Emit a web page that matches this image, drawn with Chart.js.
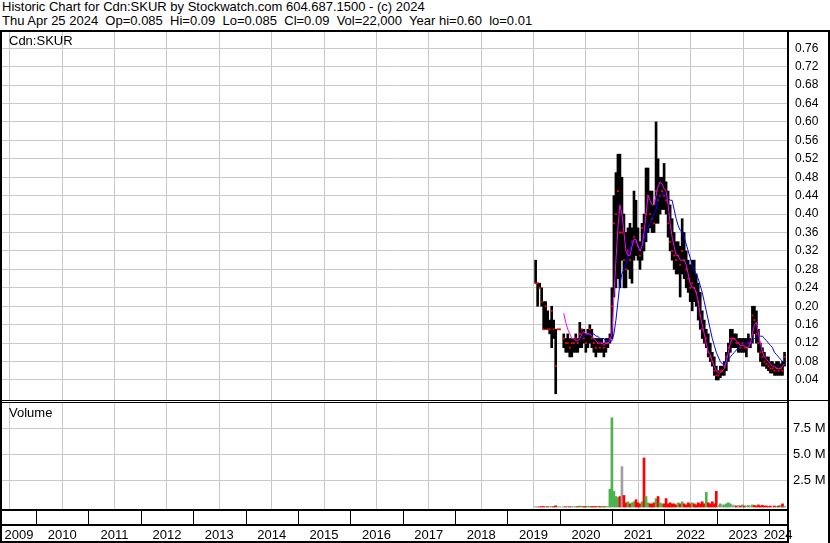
<!DOCTYPE html>
<html>
<head>
<meta charset="utf-8">
<title>Historic Chart for Cdn:SKUR</title>
<script src="https://cdn.jsdelivr.net/npm/chart.js"></script>
<style>
  body { margin: 0; background: #fff; }
  #wrap { position: relative; width: 830px; height: 543px; overflow: hidden; font-family: Arial, "Liberation Sans", sans-serif; }
  .txt { position: absolute; font-size: 13px; line-height: 13px; white-space: pre; color: #000; }
  .ln { position: absolute; background: #000; }
  canvas { position: absolute; left: 0; }
</style>
</head>
<body>
<div id="wrap">
  <div class="txt" style="left:2px;top:0px">Historic Chart for Cdn:SKUR by Stockwatch.com 604.687.1500 - (c) 2024</div>
  <div class="txt" style="left:2px;top:14px">Thu Apr 25 2024  Op=0.085  Hi=0.09  Lo=0.085  Cl=0.09  Vol=22,000  Year hi=0.60  lo=0.01</div>

  <canvas id="priceChart" width="830" height="369" style="top:31px"></canvas>
  <canvas id="volumeChart" width="830" height="140" style="top:403px"></canvas>

  <div class="txt" style="left:9px;top:34px">Cdn:SKUR</div>
  <div class="txt" style="left:9px;top:406px">Volume</div>

  <!-- frame -->
  <div class="ln" style="left:0;top:30px;width:830px;height:2px"></div>
  <div class="ln" style="left:0;top:30px;width:2px;height:513px"></div>
  <div class="ln" style="left:787px;top:30px;width:2px;height:513px"></div>
  <div class="ln" style="left:828px;top:30px;width:2px;height:513px"></div>
  <div class="ln" style="left:0;top:400px;width:830px;height:1px"></div>
  <div class="ln" style="left:0;top:402px;width:789px;height:1px"></div>
  <div class="ln" style="left:0;top:509px;width:789px;height:2px"></div>
  <div class="ln" style="left:0;top:524px;width:789px;height:2px"></div>
  <div class="ln" style="left:0;top:541px;width:789px;height:2px"></div>
</div>

<script>
// two-week bars, mid Jul 2019 -> Apr 2024
const firstDate = 2019.54;
const stepYears = 14 / 365.25;

const highs = [
  .30, .25, .25, .24, .21, .21, .19, .17, .20, .17, .15, .15, .15, null,
  .14, .13, .14, .13, .13, .13, .14, .13, .165, .15, .15, .14, .15, .16, .15, .13,
  .13, .13, .13, .13, .12, .13, .13, .14, .24, .44, .49, .53, .53, .48, .40, .36,
  .37, .38, .37, .45, .43, .37, .34, .38, .40, .50, .50, .45, .45, .42, .60, .52,
  .48, .48, .51, .47, .45, .42, .39, .36, .34, .34, .33, .39, .36, .32, .30, .29,
  .30, .30, .27, .25, .23, .19, .17, .15, .14, .12, .10, .09, .07, .06, .07, .07,
  .08, .10, .12, .15, .15, .14, .14, .13, .13, .13, .13, .13, .14, .13, .20, .20,
  .19, .15, .12, .11, .10, .09, .09, .08, .08, .075, .08, .08, .075, .08, .10
];
const lows = [
  .25, .20, .24, .20, .15, .15, .15, .14, .11, .13, .01, .15, .15, null,
  .11, .10, .10, .09, .09, .10, .10, .10, .11, .11, .12, .10, .11, .12, .11, .10,
  .09, .10, .10, .10, .09, .10, .11, .12, .13, .22, .24, .26, .24, .30, .24, .24,
  .28, .26, .25, .30, .31, .30, .28, .30, .32, .34, .36, .37, .36, .36, .38, .38,
  .40, .41, .41, .40, .35, .32, .30, .28, .27, .27, .22, .27, .26, .24, .23, .21,
  .19, .21, .20, .17, .15, .13, .12, .11, .09, .08, .07, .05, .04, .04, .045, .05,
  .05, .06, .08, .10, .11, .11, .11, .10, .10, .10, .10, .09, .11, .11, .12, .14,
  .12, .10, .08, .07, .07, .065, .06, .055, .055, .05, .05, .05, .05, .05, .07
];
const closes = [
  .25, .25, .24, .21, .15, .20, .15, .15, .19, .15, .07, .15, .15, null,
  .13, .12, .12, .11, .12, .12, .13, .12, .14, .15, .13, .12, .14, .15, .13, .12,
  .11, .12, .11, .12, .11, .12, .12, .13, .20, .38, .40, .45, .36, .36, .30, .28,
  .32, .30, .34, .35, .34, .33, .31, .37, .35, .40, .44, .40, .39, .38, .45, .43,
  .44, .45, .44, .43, .38, .34, .32, .31, .30, .31, .29, .32, .30, .28, .26, .24,
  .25, .24, .23, .21, .18, .15, .12, .13, .10, .09, .08, .06, .05, .05, .06, .06,
  .07, .09, .11, .13, .13, .13, .12, .12, .11, .12, .11, .11, .12, .12, .18, .17,
  .14, .12, .10, .09, .08, .075, .07, .065, .065, .06, .065, .06, .065, .06, .09
];
// millions of shares
const volumes = [
  .05, .03, .02, .04, .05, .03, .04, .03, .05, .04, .12, .02, .02, 0,
  .04, .03, .06, .03, .04, .03, .05, .04, .10, .06, .05, .04, .08, .06, .05, .04,
  .05, .04, .06, .05, .04, .07, .06, 1.7, 8.5, 1.5, 1.0, .9, 1.0, 3.85, 1.1, .4,
  .5, .3, .4, .5, .7, .4, .3, .5, 4.67, 1.0, .4, .3, .3, .4, .8, 1.0,
  .4, .3, .3, .8, .3, .4, .3, .3, .2, .4, .3, .5, .3, .2, .4, .3,
  .4, .3, .2, .4, .3, .5, .3, 1.4, .4, .3, .5, .3, 1.5, .2, .3, .2,
  .2, .3, .4, .3, .2, .15, .1, .15, .1, .2, .1, .1, .15, .1, .2, .15,
  .1, .2, .1, .15, .1, .1, .05, .1, .05, .1, .05, .1, .15, .3, .05
];
// short average (magenta)
const maShort = [
  null, null, null, null, null, null, null, null, null, null, null, null, null, null,
  .185, .165, .15, .14, .13, .13, .125, .125, .13, .14, .145, .14, .14, .14, .135, .13,
  .125, .12, .12, .12, .115, .12, .12, .125, .14, .22, .30, .37, .42, .40, .36, .32,
  .31, .31, .33, .345, .345, .33, .32, .33, .36, .40, .44, .43, .42, .42, .44, .46,
  .47, .465, .455, .45, .42, .38, .35, .33, .31, .31, .30, .30, .30, .29, .27, .25,
  .24, .24, .23, .21, .18, .16, .14, .12, .10, .095, .08, .07, .06, .055, .055, .06,
  .065, .08, .10, .12, .13, .13, .125, .12, .115, .115, .115, .11, .11, .12, .14, .16,
  .165, .14, .12, .10, .09, .085, .08, .075, .07, .07, .065, .065, .065, .07, .075
];
// long average (blue)
const maLong = [
  null, null, null, null, null, null, null, null, null, null, null, null, null, null,
  null, null, null, null, null, null, null, null, .125, .13, .135, .14, .14, .14, .14, .14,
  .135, .135, .13, .13, .13, .125, .125, .125, .125, .14, .17, .21, .25, .27, .28, .29,
  .31, .325, .34, .345, .34, .33, .32, .33, .345, .36, .37, .38, .39, .40, .41, .43,
  .44, .445, .445, .44, .435, .43, .43, .41, .39, .375, .365, .36, .35, .335, .32, .305,
  .29, .28, .27, .26, .245, .23, .21, .19, .17, .15, .13, .115, .10, .09, .08, .075,
  .075, .08, .085, .09, .095, .10, .105, .11, .115, .115, .12, .12, .12, .12, .125, .13,
  .13, .135, .135, .135, .13, .125, .12, .115, .11, .10, .095, .09, .085, .08, .08
];

const priceTicks = [0.04, 0.08, 0.12, 0.16, 0.20, 0.24, 0.28, 0.32, 0.36, 0.40, 0.44, 0.48, 0.52, 0.56, 0.60, 0.64, 0.68, 0.72, 0.76];
const volumeTicks = [2.5, 5.0, 7.5];
const yearLines = [2010, 2011, 2012, 2013, 2014, 2015, 2016, 2017, 2018, 2019, 2020, 2021, 2022, 2023, 2024];
const yearLabels = [2009, 2010, 2011, 2012, 2013, 2014, 2015, 2016, 2017, 2018, 2019, 2020, 2021, 2022, 2023, 2024];

const xMin = 2009.35, xMax = 2024.34;
const dates = closes.map((_, i) => firstDate + i * stepYears);

const gridColor = '#c8c8c8';
const labelFont = { family: 'Arial, "Liberation Sans", sans-serif', size: 12 };

function xAxis(h) {
  return {
    type: 'linear', min: xMin, max: xMax, offset: false,
    afterBuildTicks: s => { s.ticks = yearLines.map(v => ({ value: v })); },
    afterFit: s => { s.height = h; s.paddingLeft = 0; s.paddingRight = 0; },
    grid: { color: gridColor, drawTicks: false },
    border: { display: false },
    ticks: { display: false }
  };
}

// keep the plot area flush with the canvas edges
function rightAxis(ticks) {
  return {
    position: 'right',
    afterBuildTicks: s => { s.ticks = ticks.map(v => ({ value: v })); },
    afterFit: s => { s.width = 43; s.paddingTop = 0; s.paddingBottom = 0; },
    grid: { color: gridColor, drawTicks: false },
    border: { display: false }
  };
}

// price panel
const hlBars = [], closePts = [], shortPts = [], longPts = [];
dates.forEach((d, i) => {
  if (highs[i] !== null) {
    hlBars.push({ x: d, y: [lows[i], highs[i]] });
    closePts.push({ x: d, y: closes[i] });
  }
  shortPts.push({ x: d, y: maShort[i] });
  longPts.push({ x: d, y: maLong[i] });
});

const py = rightAxis(priceTicks);
py.min = -0.0035;
py.max = 0.7974;
py.ticks = { color: '#000', font: labelFont, padding: 8, callback: v => v.toFixed(2) };

new Chart(document.getElementById('priceChart'), {
  type: 'bar',
  data: {
    datasets: [
      { type: 'line', data: shortPts, borderColor: '#ff00ff', borderWidth: 1, pointRadius: 0, spanGaps: false, order: 0 },
      { type: 'line', data: longPts, borderColor: '#0000ff', borderWidth: 1, pointRadius: 0, spanGaps: false, order: 0 },
      { type: 'line', data: closePts, showLine: false, pointStyle: 'rect', pointRadius: 1.3, pointBackgroundColor: '#ff0000', pointBorderWidth: 0, order: 1 },
      { type: 'bar', data: hlBars, backgroundColor: '#000000', barThickness: 2, order: 2 }
    ]
  },
  options: {
    responsive: false,
    animation: false,
    layout: { autoPadding: false, padding: { left: 2, right: 0, top: 0, bottom: 0 } },
    plugins: { legend: { display: false }, tooltip: { enabled: false } },
    scales: { x: xAxis(0), y: py }
  }
});

// volume panel
const volColors = volumes.map((v, i) => {
  if (i === 0 || closes[i] === null || closes[i - 1] === null) return '#a0a0a0';
  if (closes[i] > closes[i - 1]) return '#4db34d';
  if (closes[i] < closes[i - 1]) return '#ff0000';
  return '#a0a0a0';
});

const yearStrip = {
  id: 'yearStrip',
  afterDraw(chart) {
    const { ctx, chartArea, scales: { x } } = chart;
    const top = chartArea.bottom;
    ctx.save();
    ctx.fillStyle = '#000';
    yearLines.forEach(yr => {
      const p = Math.round(x.getPixelForValue(yr));
      ctx.fillRect(p, top + 2, 1, 15);
    });
    ctx.font = '13px Arial, "Liberation Sans", sans-serif';
    ctx.textAlign = 'center';
    ctx.textBaseline = 'alphabetic';
    yearLabels.forEach(yr => {
      const a = Math.max(x.getPixelForValue(yr), chartArea.left);
      const b = Math.min(x.getPixelForValue(yr + 1), chartArea.right);
      ctx.fillText(String(yr), (a + b) / 2, top + 30);
    });
    ctx.restore();
  }
};

const vy = rightAxis(volumeTicks);
vy.min = -0.19;
vy.max = 9.91;
vy.ticks = { color: '#000', font: { family: labelFont.family, size: 13 }, padding: 6, callback: v => v.toFixed(1) + ' M' };

new Chart(document.getElementById('volumeChart'), {
  type: 'bar',
  data: {
    datasets: [{
      data: dates.map((d, i) => ({ x: d, y: volumes[i] })),
      backgroundColor: volColors,
      barThickness: 2
    }]
  },
  options: {
    responsive: false,
    animation: false,
    layout: { autoPadding: false, padding: { left: 2, right: 0, top: 0, bottom: 0 } },
    plugins: { legend: { display: false }, tooltip: { enabled: false } },
    scales: { x: xAxis(34), y: vy }
  },
  plugins: [yearStrip]
});
</script>
</body>
</html>
